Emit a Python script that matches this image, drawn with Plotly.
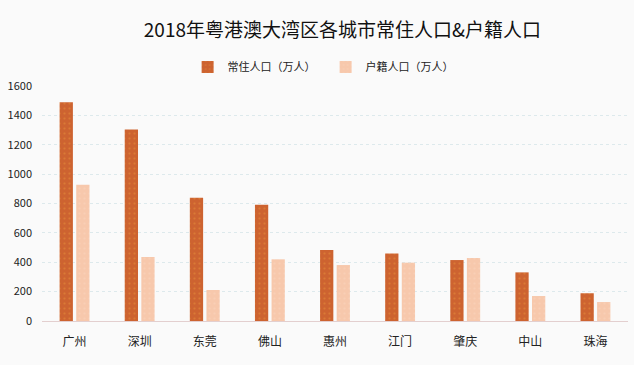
import plotly.graph_objects as go

cities = ["广州", "深圳", "东莞", "佛山", "惠州", "江门", "肇庆", "中山", "珠海"]
resident = [1490, 1303, 839, 791, 483, 460, 415, 331, 189]
household = [928, 436, 211, 420, 381, 397, 429, 170, 129]
yticks = [0, 200, 400, 600, 800, 1000, 1200, 1400, 1600]

font = "Noto Sans CJK SC, Microsoft YaHei, sans-serif"

fig = go.Figure()
fig.add_trace(go.Bar(
    x=cities, y=resident, name="常住人口（万人）",
    marker=dict(color="#CD6330", line=dict(width=0),
                pattern=dict(shape=".", fgcolor="#E8913A", size=5, solidity=0.15)),
))
fig.add_trace(go.Bar(
    x=cities, y=household, name="户籍人口（万人）",
    marker=dict(color="#F7C8AC", line=dict(width=0),
                pattern=dict(shape=".", fgcolor="#FAD6C0", size=5, solidity=0.15)),
))

fig.update_layout(
    width=634, height=365,
    margin=dict(l=42, r=6, t=86, b=44),
    paper_bgcolor="#FAFAFA", plot_bgcolor="#FAFAFA",
    barmode="group", bargap=0.49, bargroupgap=0.2,
    font=dict(family=font, size=11, color="#333333"),
    title=dict(text="2018年粤港澳大湾区各城市常住人口&户籍人口",
               x=0.54, xanchor="center", y=0.918, yanchor="middle",
               font=dict(family=font, size=19, color="#111111")),
    legend=dict(orientation="h", x=0.484, xanchor="center", y=1.081, yanchor="middle",
                font=dict(family=font, size=11, color="#222222"),
                itemwidth=30, entrywidth=93, entrywidthmode="pixels",
                traceorder="normal", bgcolor="rgba(0,0,0,0)"),
    showlegend=True,
)
fig.update_xaxes(showgrid=False, showline=True, linecolor="#E3CFCF", linewidth=1,
                 ticks="", ticklabelstandoff=10, tickfont=dict(size=12, color="#222222"))
fig.update_yaxes(range=[0, 1600], tickvals=yticks, showgrid=True,
                 gridcolor="#DDE9EC", griddash="dot", gridwidth=1,
                 zeroline=False, showline=False, ticks="", ticklabelstandoff=9,
                 tickfont=dict(size=11, color="#222222"))

fig.write_html("out.html",
               config={"displayModeBar": False},
               post_script="document.body.style.margin='0';document.body.style.background='#FAFAFA';")
